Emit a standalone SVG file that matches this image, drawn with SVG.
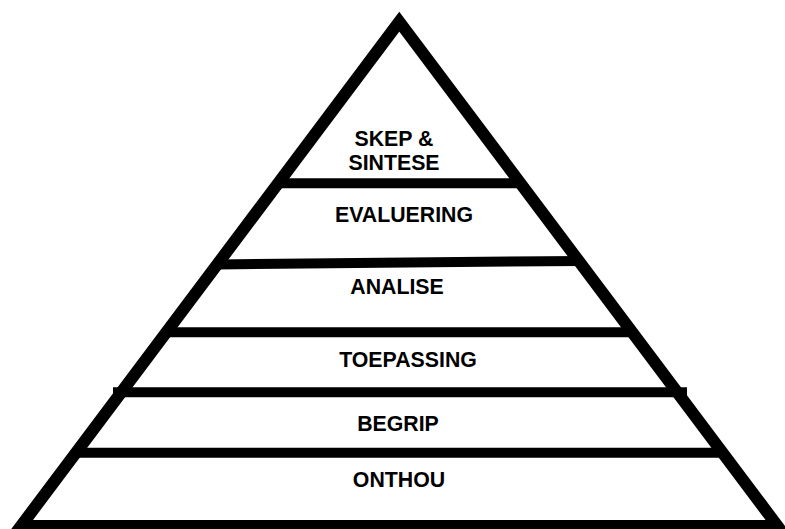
<svg xmlns="http://www.w3.org/2000/svg" width="785" height="529" viewBox="0 0 785 529">
  <style>
    .lbl { font-family: "Liberation Sans", Arial, sans-serif; font-weight: bold; font-size: 21.3px; fill: #000; text-anchor: middle; }
    .div { stroke: #000; stroke-width: 10; fill: none; stroke-linecap: butt; }
    .outline { stroke: #000; stroke-width: 12; fill: none; stroke-linejoin: miter; stroke-miterlimit: 10; }
  </style>
  <rect width="785" height="529" fill="#fff"/>
  <g id="dividers">
    <line class="div" x1="278" y1="183.3" x2="520" y2="183.3"/>
    <line class="div" x1="217" y1="264.4" x2="582" y2="260.9"/>
    <line class="div" x1="166" y1="332.3" x2="633" y2="332.3"/>
    <line class="div" x1="113" y1="392.3" x2="687" y2="392.3"/>
    <line class="div" x1="76" y1="452.7" x2="722" y2="452.7"/>
  </g>
  <g id="pyramid">
    <polygon class="outline" points="399.3,21.7 21,526 777.5,526"/>
  </g>
  <g id="level-skep">
    <text class="lbl" x="394" y="145.7">SKEP &amp;</text>
    <text class="lbl" x="394" y="170">SINTESE</text>
  </g>
  <g id="level-evaluering">
    <text class="lbl" x="404" y="221.7">EVALUERING</text>
  </g>
  <g id="level-analise">
    <text class="lbl" x="397" y="294">ANALISE</text>
  </g>
  <g id="level-toepassing">
    <text class="lbl" x="408" y="367">TOEPASSING</text>
  </g>
  <g id="level-begrip">
    <text class="lbl" x="398" y="430.7">BEGRIP</text>
  </g>
  <g id="level-onthou">
    <text class="lbl" x="399" y="486.7">ONTHOU</text>
  </g>
</svg>
